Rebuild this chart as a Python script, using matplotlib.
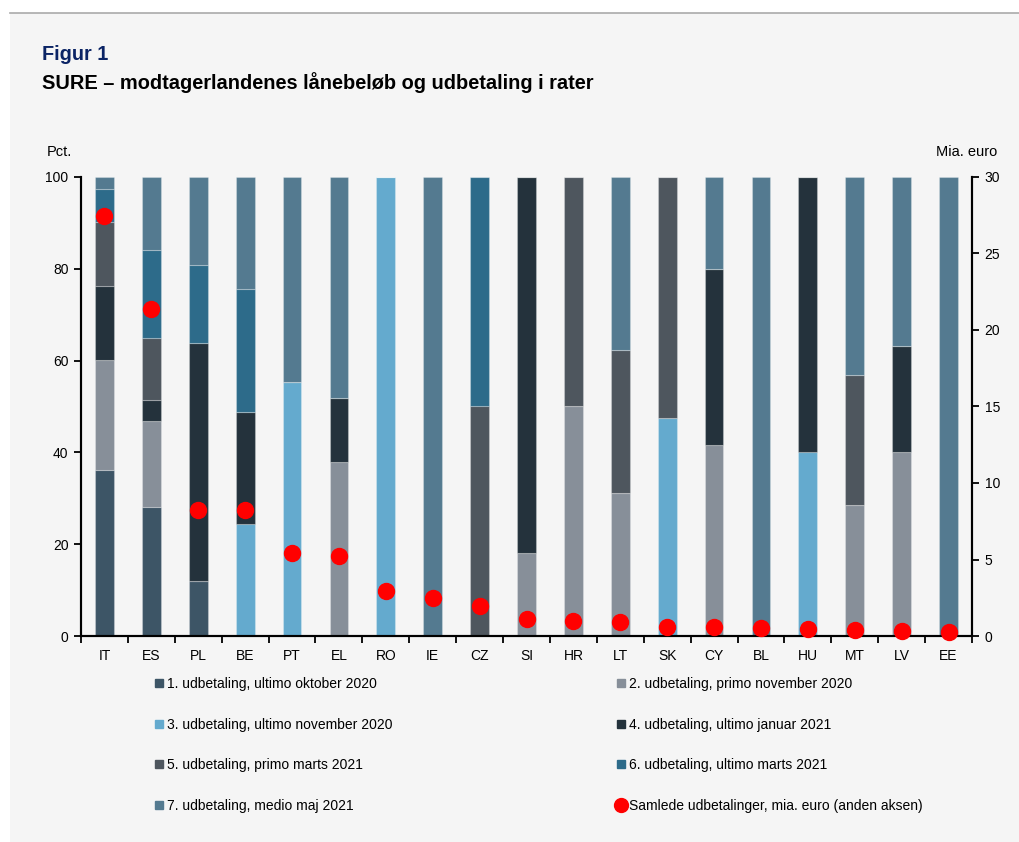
import matplotlib
matplotlib.use("Agg")
import matplotlib.pyplot as plt
from matplotlib.lines import Line2D
from matplotlib.patches import Rectangle
import numpy as np

plt.rcParams['font.family'] = ['Liberation Sans', 'DejaVu Sans']

countries = ["IT", "ES", "PL", "BE", "PT", "EL", "RO", "IE", "CZ", "SI",
             "HR", "LT", "SK", "CY", "BL", "HU", "MT", "LV", "EE"]

s1 = [36.1, 28.0, 12.0, 0, 0, 0, 0, 0, 0, 0, 0, 0, 0, 0, 0, 0, 0, 0, 0]
s2 = [24.0, 18.9, 0, 0, 0, 37.9, 0, 0, 0, 18.0, 50.0, 31.2, 0, 41.6, 0, 0, 28.5, 40.0, 0]
s3 = [0, 0, 0, 24.3, 55.4, 0, 100, 0, 0, 0, 0, 0, 47.5, 0, 0, 40.0, 0, 0, 0]
s4 = [16.2, 4.6, 51.9, 24.4, 0, 13.9, 0, 0, 0, 82.0, 0, 0, 0, 38.4, 0, 60.0, 0, 23.2, 0]
s5 = [13.9, 13.5, 0, 0, 0, 0, 0, 0, 50.0, 0, 50.0, 31.2, 52.5, 0, 0, 0, 28.4, 0, 0]
s6 = [7.1, 19.2, 17.0, 26.8, 0, 0, 0, 0, 50.0, 0, 0, 0, 0, 0, 0, 0, 0, 0, 0]
s7 = [2.7, 15.8, 19.1, 24.5, 44.6, 48.2, 0, 100, 0, 0, 0, 37.6, 0, 20.0, 100, 0, 43.1, 36.8, 100]
total_bn = [27.45, 21.34, 8.23, 8.23, 5.40, 5.25, 2.96, 2.46, 1.98, 1.09,
            1.00, 0.94, 0.61, 0.57, 0.50, 0.46, 0.39, 0.31, 0.24]

series_labels = ["1. udbetaling, ultimo oktober 2020",
                 "2. udbetaling, primo november 2020",
                 "3. udbetaling, ultimo november 2020",
                 "4. udbetaling, ultimo januar 2021",
                 "5. udbetaling, primo marts 2021",
                 "6. udbetaling, ultimo marts 2021",
                 "7. udbetaling, medio maj 2021"]
dot_label = "Samlede udbetalinger, mia. euro (anden aksen)"
colors = ["#3D5566", "#878F99", "#64AACE", "#24323C", "#4E565E", "#2D6B8A", "#547A90"]

fig = plt.figure(figsize=(10.2, 8.42), dpi=100)
fig.patch.set_facecolor("white")
# panel background
fig.add_artist(Rectangle((10 / 1020, 0), 1 - 10 / 1020, 1 - 13 / 842,
                         transform=fig.transFigure, facecolor="#F5F5F5",
                         edgecolor="none", zorder=-10))
fig.add_artist(Line2D([10 / 1020, 1], [1 - 13 / 842, 1 - 13 / 842],
                      transform=fig.transFigure, color="#AAAAAA", lw=1.2))

ax = fig.add_axes([81 / 1020, 1 - 636 / 842, (972 - 81) / 1020, (636 - 177) / 842])
ax.set_facecolor("none")

x = np.arange(len(countries))
data = [s1, s2, s3, s4, s5, s6, s7]
bottom = np.zeros(len(countries))
for vals, c, lab in zip(data, colors, series_labels):
    v = np.array(vals, dtype=float)
    ax.bar(x, v, 0.4, bottom=bottom, color=c, label=lab,
           edgecolor=(1, 1, 1, 0.25), linewidth=0.8)
    bottom += v

ax.set_xlim(-0.5, len(countries) - 0.5)
ax.set_ylim(0, 100)
ax.set_yticks([0, 20, 40, 60, 80, 100])
ax.set_xticks(x)
ax.set_xticklabels(countries)
ax.set_xticks(np.arange(-0.5, len(countries), 1), minor=True)
ax.tick_params(axis="x", which="major", length=0, pad=9, labelsize=10)
ax.tick_params(axis="x", which="minor", length=5, width=1.3, direction="out")
ax.tick_params(axis="y", length=5, width=1.3, direction="out", labelsize=10, pad=4)
for s in ["left", "bottom", "right"]:
    ax.spines[s].set_linewidth(1.5)
    ax.spines[s].set_color("black")
ax.spines["top"].set_visible(False)

ax2 = ax.twinx()
ax2.set_ylim(0, 30)
ax2.set_yticks([0, 5, 10, 15, 20, 25, 30])
ax2.tick_params(axis="y", length=5, width=1.3, direction="out", labelsize=10, pad=4)
for s in ["left", "bottom", "right"]:
    ax2.spines[s].set_linewidth(1.5)
ax2.spines["top"].set_visible(False)
ax2.plot(x, total_bn, ls="none", marker="o", color="#FF0000", markersize=11.5,
         clip_on=False, zorder=5)

fig.text(42 / 1020, 1 - 54 / 842, "Figur 1", fontsize=14.3, fontweight="bold",
         color="#0B2465", va="center", ha="left")
fig.text(42 / 1020, 1 - 83 / 842, "SURE \u2013 modtagerlandenes lånebeløb og udbetaling i rater",
         fontsize=14.4, fontweight="bold", color="black", va="center", ha="left")
fig.text(47 / 1020, 1 - 152 / 842, "Pct.", fontsize=10.5, va="center", ha="left")
fig.text(997 / 1020, 1 - 152 / 842, "Mia. euro", fontsize=10.5, va="center", ha="right")

h = [Line2D([], [], ls="none", marker="s", markersize=6, color=c) for c in colors]
hdot = Line2D([], [], ls="none", marker="o", markersize=10, color="#FF0000")
col1_h = [h[0], h[2], h[4], h[6]]
col1_l = [series_labels[0], series_labels[2], series_labels[4], series_labels[6]]
col2_h = [h[1], h[3], h[5], hdot]
col2_l = [series_labels[1], series_labels[3], series_labels[5], dot_label]
leg_kw = dict(loc="upper left", frameon=False, borderpad=0, borderaxespad=0,
              handlelength=0.6, handletextpad=0.25, labelspacing=1.92, fontsize=10)
fig.legend(col1_h, col1_l, bbox_to_anchor=(155 / 1020, 1 - 677 / 842), **leg_kw)
fig.legend(col2_h, col2_l, bbox_to_anchor=(617 / 1020, 1 - 677 / 842), **leg_kw)

fig.savefig("out.png", dpi=100, facecolor=fig.get_facecolor())
